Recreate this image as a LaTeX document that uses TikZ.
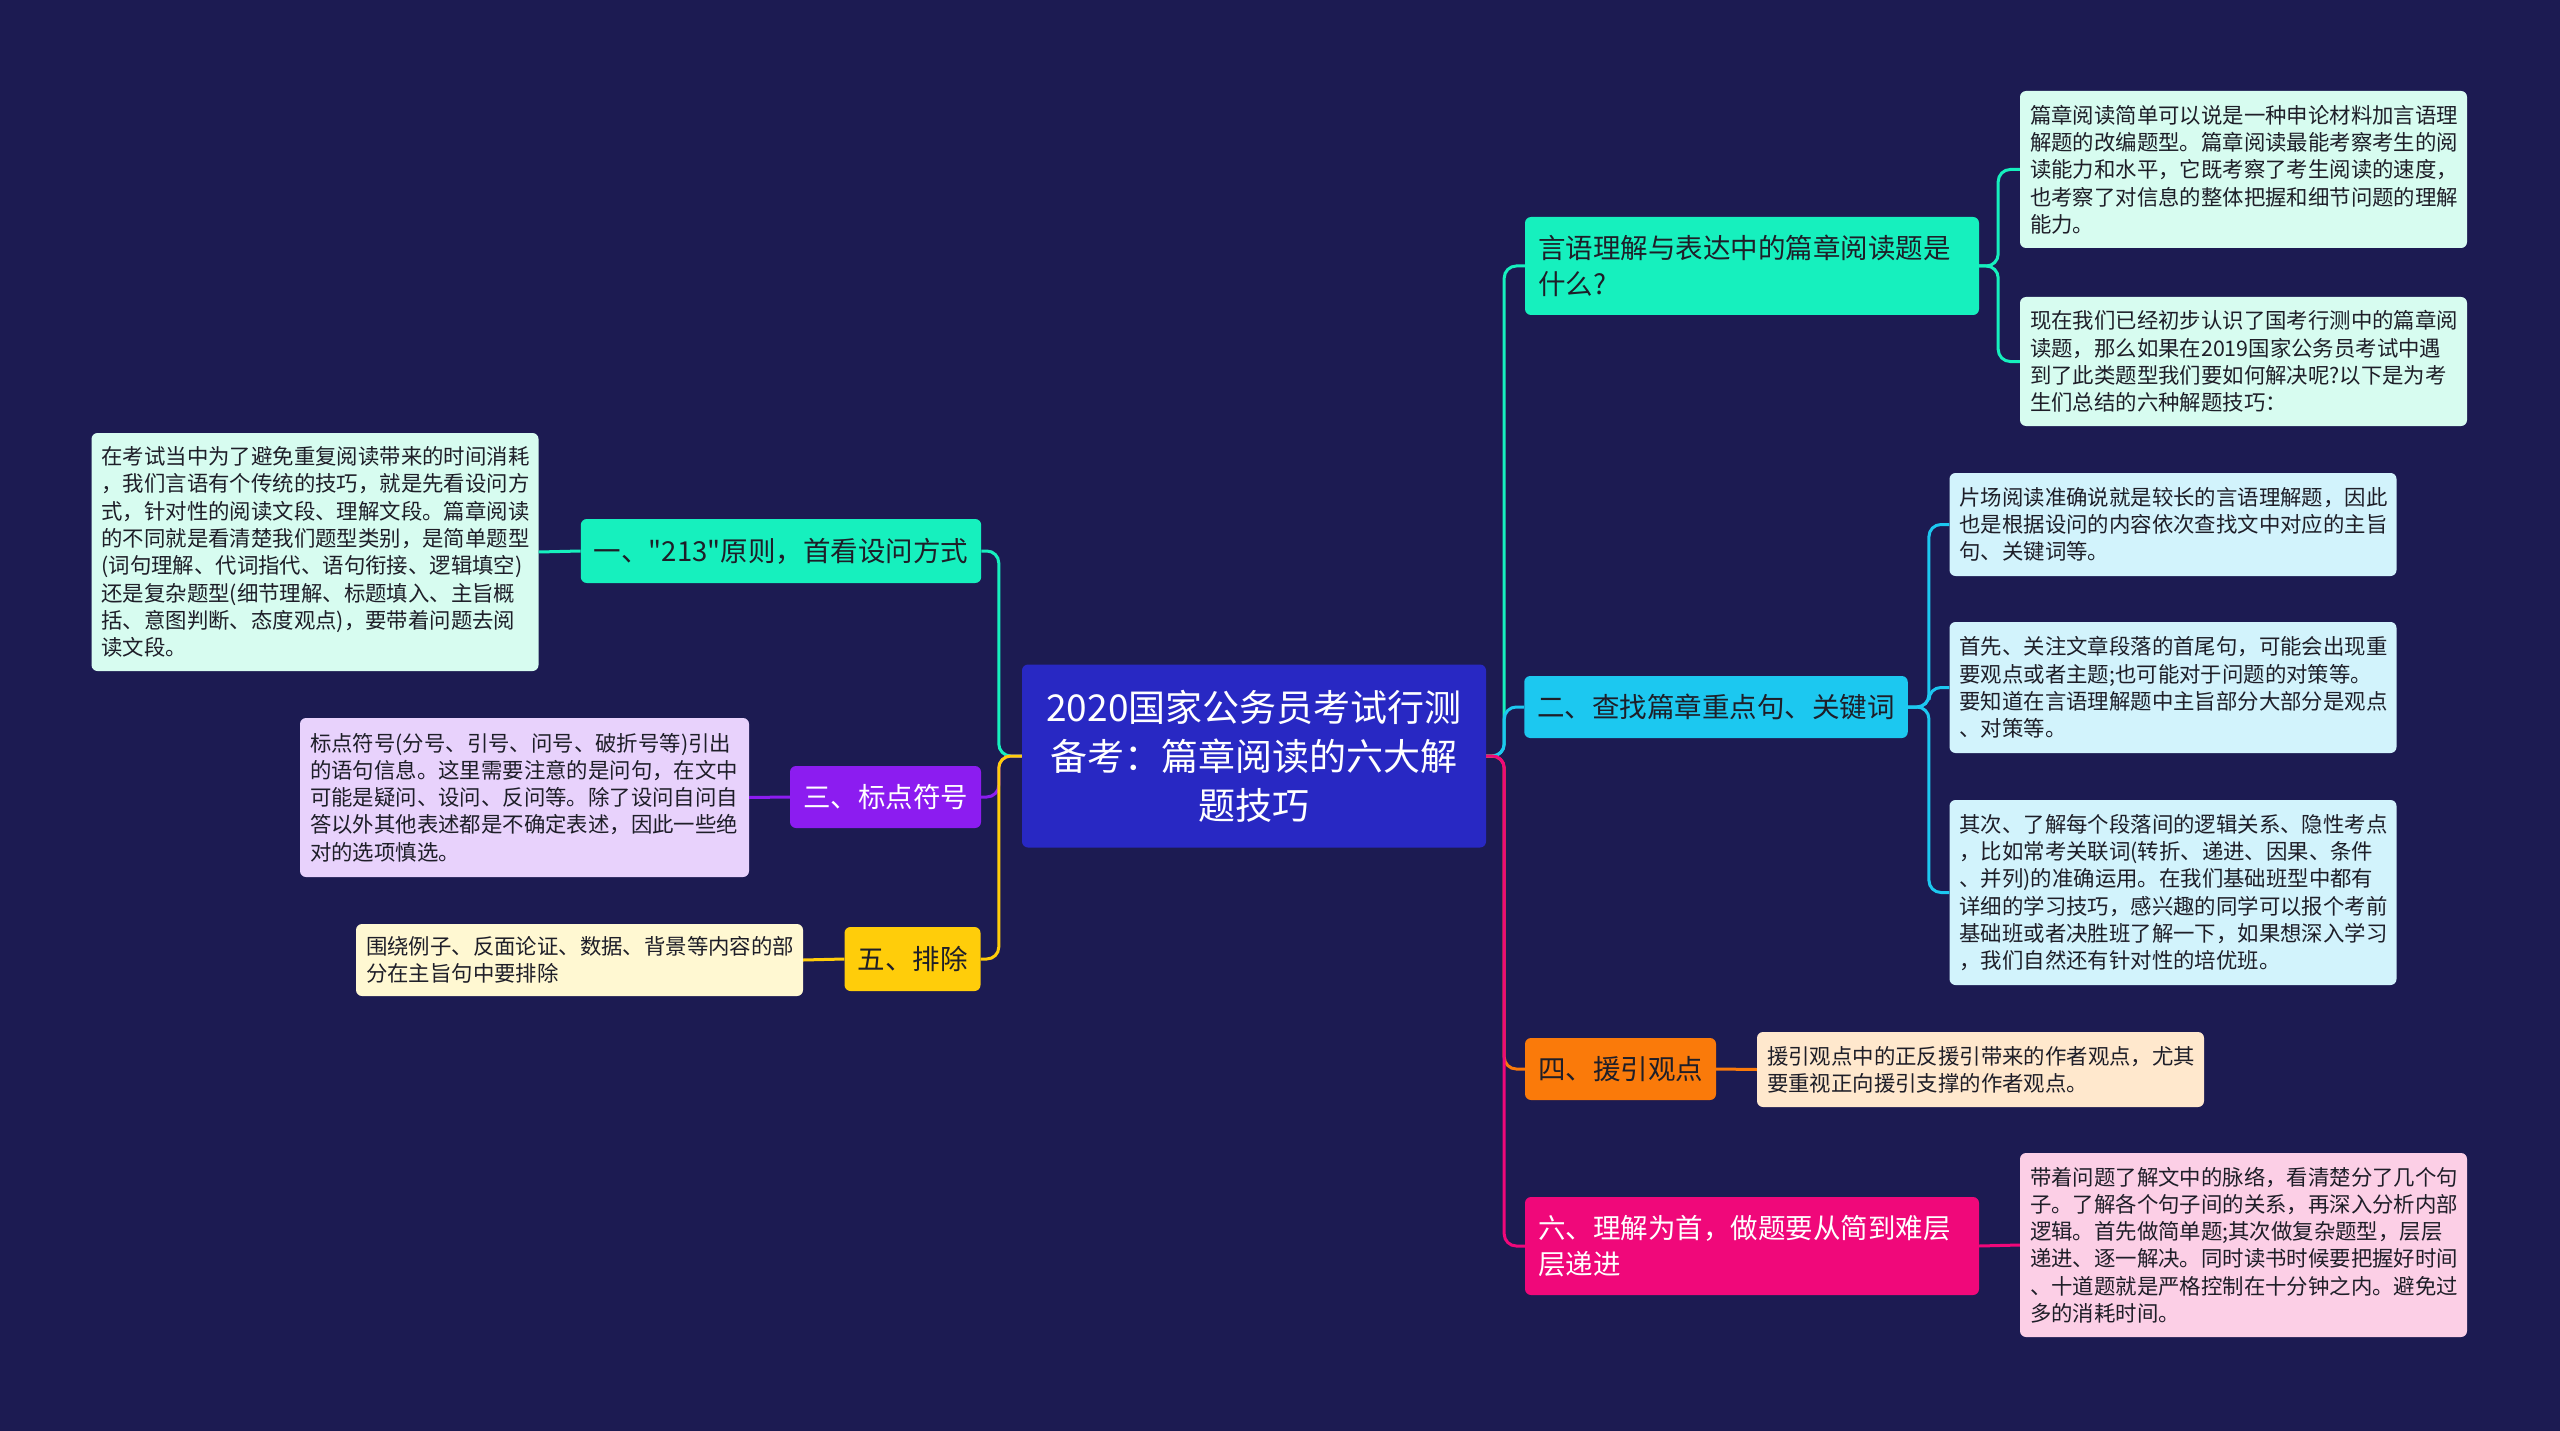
\documentclass[tikz,border=0pt]{standalone}
\usepackage{fontspec}
\setmainfont{Noto Sans CJK SC}
\newfontfamily\zhfont{Noto Sans CJK SC}
\usetikzlibrary{positioning}

\definecolor{navybg}{RGB}{28,27,82}
\definecolor{rootblue}{RGB}{40,40,195}
\definecolor{inkdark}{RGB}{30,30,40}
\definecolor{mintdeep}{RGB}{22,240,190}
\definecolor{mintpale}{RGB}{215,252,240}
\definecolor{skydeep}{RGB}{28,200,240}
\definecolor{skypale}{RGB}{210,243,252}
\definecolor{orangedeep}{RGB}{250,122,10}
\definecolor{orangepale}{RGB}{255,232,205}
\definecolor{rosedeep}{RGB}{240,8,122}
\definecolor{rosepale}{RGB}{252,207,230}
\definecolor{violetdeep}{RGB}{140,28,240}
\definecolor{violetpale}{RGB}{232,210,252}
\definecolor{golddeep}{RGB}{255,205,10}
\definecolor{goldpale}{RGB}{255,248,210}

\begin{document}
\begin{tikzpicture}[x=1pt, y=-1pt,
  root/.style={fill=rootblue, text=white, rounded corners=6pt,
    minimum width=464pt, minimum height=183pt, align=center,
    font=\zhfont\fontsize{37}{49}\selectfont},
  topic/.style={fill=#1, text=inkdark, rounded corners=6pt,
    minimum height=62pt, inner xsep=13pt, align=left,
    font=\zhfont\fontsize{27.5}{36}\selectfont},
  leaf/.style={fill=#1, text=inkdark, rounded corners=6pt,
    text width=427pt, inner xsep=10pt, align=left,
    font=\zhfont\fontsize{21.4}{27.3}\selectfont},
  link/.style={draw=#1, line width=3pt, rounded corners=12pt},
]

%% Canvas
\useasboundingbox (0,0) rectangle (2560,1431);
\fill[navybg] (0,0) rectangle (2560,1431);

%% Root
\node[root] (root) at (1254,756) {2020国家公务员考试行测\\备考：篇章阅读的六大解\\题技巧};

%% Right topics
\node[topic=mintdeep, text width=428pt, minimum height=98pt] (r1) at (1752,266)
  {言语理解与表达中的篇章阅读题是\\什么?};
\node[topic=skydeep] (r2) at (1716,707) {二、查找篇章重点句、关键词};
\node[topic=orangedeep] (r4) at (1620.5,1069) {四、援引观点};
\node[topic=rosedeep, text=white, text width=428pt, minimum height=98pt] (r6) at (1752,1246)
  {六、理解为首，做题要从简到难层\\层递进};

%% Left topics
\node[topic=mintdeep, minimum width=400pt, minimum height=64pt] (l1) at (781,551) {一、"213"原则，首看设问方式};
\node[topic=violetdeep, text=white] (l3) at (885.5,797) {三、标点符号};
\node[topic=golddeep, minimum height=64pt] (l5) at (912.5,959) {五、排除};

%% Right leaves
\node[leaf=mintpale, minimum height=157pt] (r1a) at (2243.5,169.5) {%
  篇章阅读简单可以说是一种申论材料加言语理\\
  解题的改编题型。篇章阅读最能考察考生的阅\\
  读能力和水平，它既考察了考生阅读的速度，\\
  也考察了对信息的整体把握和细节问题的理解\\
  能力。};
\node[leaf=mintpale, minimum height=129pt] (r1b) at (2243.5,361.5) {%
  现在我们已经初步认识了国考行测中的篇章阅\\
  读题，那么如果在2019国家公务员考试中遇\\
  到了此类题型我们要如何解决呢?以下是为考\\
  生们总结的六种解题技巧：};
\node[leaf=skypale, minimum height=103pt] (r2a) at (2173,524.5) {%
  片场阅读准确说就是较长的言语理解题，因此\\
  也是根据设问的内容依次查找文中对应的主旨\\
  句、关键词等。};
\node[leaf=skypale, minimum height=131pt] (r2b) at (2173,687.5) {%
  首先、关注文章段落的首尾句，可能会出现重\\
  要观点或者主题;也可能对于问题的对策等。\\
  要知道在言语理解题中主旨部分大部分是观点\\
  、对策等。};
\node[leaf=skypale, minimum height=185pt] (r2c) at (2173,892.5) {%
  其次、了解每个段落间的逻辑关系、隐性考点\\
  ，比如常考关联词(转折、递进、因果、条件\\
  、并列)的准确运用。在我们基础班型中都有\\
  详细的学习技巧，感兴趣的同学可以报个考前\\
  基础班或者决胜班了解一下，如果想深入学习\\
  ，我们自然还有针对性的培优班。};
\node[leaf=orangepale, minimum height=75pt] (r4a) at (1980.5,1069.5) {%
  援引观点中的正反援引带来的作者观点，尤其\\
  要重视正向援引支撑的作者观点。};
\node[leaf=rosepale, minimum height=184pt] (r6a) at (2243.5,1245) {%
  带着问题了解文中的脉络，看清楚分了几个句\\
  子。了解各个句子间的关系，再深入分析内部\\
  逻辑。首先做简单题;其次做复杂题型，层层\\
  递进、逐一解决。同时读书时候要把握好时间\\
  、十道题就是严格控制在十分钟之内。避免过\\
  多的消耗时间。};

%% Left leaves
\node[leaf=mintpale, minimum height=238pt] (l1a) at (315,552) {%
  在考试当中为了避免重复阅读带来的时间消耗\\
  ，我们言语有个传统的技巧，就是先看设问方\\
  式，针对性的阅读文段、理解文段。篇章阅读\\
  的不同就是看清楚我们题型类别，是简单题型\\
  (词句理解、代词指代、语句衔接、逻辑填空)\\
  还是复杂题型(细节理解、标题填入、主旨概\\
  括、意图判断、态度观点)，要带着问题去阅\\
  读文段。};
\node[leaf=violetpale, text width=429pt, minimum height=159pt] (l3a) at (524.5,797.5) {%
  标点符号(分号、引号、问号、破折号等)引出\\
  的语句信息。这里需要注意的是问句，在文中\\
  可能是疑问、设问、反问等。除了设问自问自\\
  答以外其他表述都是不确定表述，因此一些绝\\
  对的选项慎选。};
\node[leaf=goldpale, minimum height=72pt] (l5a) at (579.5,960) {%
  围绕例子、反面论证、数据、背景等内容的部\\
  分在主旨句中要排除};

%% Trunk, right side
\draw[link=mintdeep] (root.east) -- ++(18,0) |- (r1.west);
\draw[link=skydeep] (root.east) -- ++(18,0) |- (r2.west);
\draw[link=orangedeep] (root.east) -- ++(18,0) |- (r4.west);
\draw[link=rosedeep] (root.east) -- ++(18,0) |- (r6.west);

%% Trunk, left side
\draw[link=mintdeep] (root.west) -- ++(-23,0) |- (l1.east);
\draw[link=violetdeep] (root.west) -- ++(-23,0) |- (l3.east);
\draw[link=golddeep] (root.west) -- ++(-23,0) |- (l5.east);

%% Topic to leaf
\draw[link=mintdeep] (r1.east) -- ++(19,0) |- (r1a.west);
\draw[link=mintdeep] (r1.east) -- ++(19,0) |- (r1b.west);
\draw[link=skydeep] (r2.east) -- ++(21,0) |- (r2a.west);
\draw[link=skydeep] (r2.east) -- ++(21,0) |- (r2b.west);
\draw[link=skydeep] (r2.east) -- ++(21,0) |- (r2c.west);
\draw[link=orangedeep] (r4.east) -- (r4a.west);
\draw[link=rosedeep] (r6.east) -- (r6a.west);
\draw[link=mintdeep] (l1.west) -- (l1a.east);
\draw[link=violetdeep] (l3.west) -- (l3a.east);
\draw[link=golddeep] (l5.west) -- (l5a.east);

\end{tikzpicture}
\end{document}
